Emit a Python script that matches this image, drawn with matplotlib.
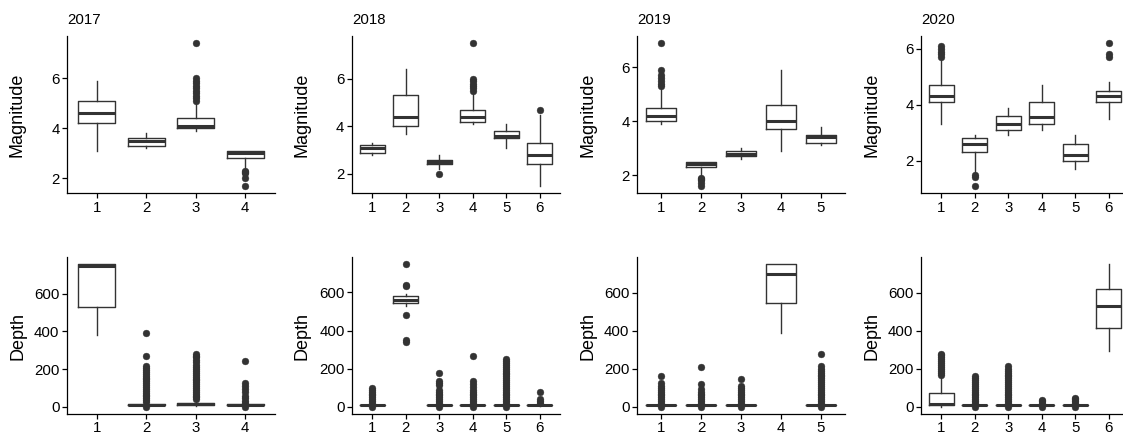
import matplotlib.pyplot as plt

plt.rcParams['font.family'] = ['Liberation Sans', 'DejaVu Sans']

years = ['2017', '2018', '2019', '2020']

# magnitude box stats, one list per year, one value per category
mag_lo = [[3.1, 3.2, 3.9, 2.4], [2.8, 3.7, 2.2, 4.1, 3.1, 1.5],
          [3.9, 2.0, 2.6, 2.9, 3.1], [3.3, 1.6, 2.9, 3.1, 1.7, 3.5]]
mag_q1 = [[4.2, 3.3, 4.0, 2.8], [2.9, 4.0, 2.4, 4.2, 3.5, 2.4],
          [4.0, 2.3, 2.7, 3.7, 3.2], [4.1, 2.3, 3.1, 3.3, 2.0, 4.1]]
mag_med = [[4.6, 3.5, 4.1, 3.0], [3.1, 4.4, 2.5, 4.4, 3.6, 2.8],
           [4.2, 2.4, 2.8, 4.0, 3.4], [4.3, 2.6, 3.3, 3.55, 2.2, 4.3]]
mag_q3 = [[5.1, 3.6, 4.4, 3.1], [3.2, 5.3, 2.6, 4.7, 3.8, 3.3],
          [4.5, 2.5, 2.9, 4.6, 3.5], [4.7, 2.8, 3.6, 4.1, 2.6, 4.5]]
mag_hi = [[5.9, 3.8, 5.0, 3.1], [3.3, 6.4, 2.8, 5.4, 4.1, 4.5],
          [5.2, 2.5, 3.0, 5.9, 3.8], [5.6, 2.9, 3.9, 4.7, 2.9, 4.8]]
mag_out = [
    [[], [], [5.1, 5.2, 5.3, 5.4, 5.5, 5.6, 5.7, 5.8, 5.9, 6.0, 7.4], [2.3, 2.25, 2.2, 2.0, 1.7]],
    [[], [], [2.0], [5.5, 5.6, 5.7, 5.8, 5.9, 6.0, 7.5], [], [4.7]],
    [[5.3, 5.4, 5.5, 5.6, 5.7, 5.9, 6.9], [1.9, 1.85, 1.8, 1.7, 1.6], [], [], []],
    [[5.7, 5.8, 5.9, 6.0, 6.1], [1.5, 1.4, 1.1], [], [], [], [5.7, 5.8, 6.2]],
]
mag_yticks = [2, 4, 6]

# depth box stats
depth_lo = [[380, 5, 5, 5], [5, 527, 5, 5, 5, 5], [5, 5, 5, 390, 5], [0, 5, 5, 5, 5, 295]]
depth_q1 = [[530, 8, 10, 8], [8, 542, 8, 8, 8, 8], [8, 8, 8, 548, 8], [9, 8, 8, 8, 8, 415]]
depth_med = [[748, 10, 15, 10], [10, 560, 10, 10, 10, 10], [10, 10, 10, 698, 10], [17, 10, 10, 10, 10, 528]]
depth_q3 = [[756, 14, 20, 14], [12, 580, 12, 12, 12, 12], [12, 12, 12, 752, 12], [71, 12, 12, 12, 12, 620]]
depth_hi = [[756, 23, 35, 22], [18, 591, 18, 18, 18, 18], [18, 18, 18, 752, 18], [160, 18, 18, 18, 18, 750]]
depth_out = [
    [[],
     [0, 25, 35, 45, 55, 65, 75, 85, 95, 105, 115, 125, 135, 145, 155, 165, 175, 185, 195, 205, 215, 272, 392],
     [40, 50, 60, 70, 80, 90, 100, 110, 120, 130, 140, 150, 160, 170, 180, 190, 200, 210, 222, 235, 250,
      262, 272, 282],
     [0, 20, 30, 45, 55, 80, 95, 110, 125, 242]],
    [[0, 20, 30, 40, 50, 60, 70, 80, 90, 100],
     [748, 640, 634, 483, 352, 340],
     [0, 20, 30, 40, 50, 60, 70, 80, 90, 112, 125, 135, 175],
     [0, 20, 30, 40, 50, 60, 70, 80, 90, 105, 118, 135, 265],
     [0, 20, 30, 40, 50, 60, 70, 80, 90, 100, 110, 120, 130, 140, 150, 160, 170, 180, 190, 200, 210, 220,
      230, 240, 250],
     [20, 30, 40, 80]],
    [[0, 20, 30, 40, 50, 60, 70, 80, 90, 100, 110, 125, 165],
     [0, 20, 30, 40, 50, 60, 70, 80, 95, 120, 208],
     [0, 20, 30, 40, 50, 60, 70, 80, 90, 100, 110, 145],
     [],
     [0, 20, 30, 40, 50, 60, 70, 80, 90, 100, 110, 120, 130, 140, 150, 160, 170, 180, 190, 200, 215, 278]],
    [[168, 178, 188, 198, 208, 218, 228, 240, 250, 260, 270, 280],
     [0, 20, 30, 40, 50, 60, 70, 80, 90, 100, 110, 120, 130, 140, 150, 160],
     [0, 20, 30, 40, 50, 60, 70, 80, 90, 100, 110, 120, 130, 140, 150, 160, 170, 180, 190, 200, 215],
     [0, 20, 30, 35],
     [0, 20, 30, 40, 45],
     []],
]
depth_yticks = [0, 200, 400, 600]

W, H = 1123, 437
col_left = [67, 352, 637, 921]
panel_w = 208
panel_h = 157
row_bottom = [193, 414]

dark = '#333333'


def drawPanel(ax, lo, q1, med, q3, hi, out, yticks, ylabel):
    stats = []
    for i in range(len(med)):
        stats.append(dict(whislo=lo[i], q1=q1[i], med=med[i], q3=q3[i], whishi=hi[i], fliers=out[i]))
    n = len(med)
    ax.bxp(stats, positions=list(range(1, n + 1)), widths=0.75, showcaps=False,
           boxprops=dict(color=dark, linewidth=1.0),
           whiskerprops=dict(color=dark, linewidth=1.0),
           medianprops=dict(color=dark, linewidth=2.2, solid_capstyle='butt'),
           flierprops=dict(marker='o', markerfacecolor=dark, markeredgecolor=dark,
                           markersize=4.9, markeredgewidth=0.3))
    ax.set_xlim(0.4, n + 0.6)
    ax.margins(y=0.05)
    ax.set_xticks(list(range(1, n + 1)))
    ax.set_xticklabels([str(k) for k in range(1, n + 1)])
    ax.set_yticks(yticks)
    for s in ['top', 'right']:
        ax.spines[s].set_visible(False)
    for s in ['left', 'bottom']:
        ax.spines[s].set_linewidth(0.9)
    ax.tick_params(length=3.4, width=0.9, pad=2, labelsize=10.8, colors='black')
    ax.set_ylabel(ylabel, fontsize=13)
    ax.yaxis.set_label_coords(-41 / panel_w, 0.5)


fig = plt.figure(figsize=(W / 100, H / 100), dpi=100)

for j in range(len(years)):
    # top row: magnitude
    ax = fig.add_axes([col_left[j] / W, 1 - row_bottom[0] / H, panel_w / W, panel_h / H])
    drawPanel(ax, mag_lo[j], mag_q1[j], mag_med[j], mag_q3[j], mag_hi[j], mag_out[j],
              mag_yticks, 'Magnitude')
    ax.set_title(years[j], loc='left', fontsize=10.8, pad=8.5)

    # bottom row: depth
    ax = fig.add_axes([col_left[j] / W, 1 - row_bottom[1] / H, panel_w / W, panel_h / H])
    drawPanel(ax, depth_lo[j], depth_q1[j], depth_med[j], depth_q3[j], depth_hi[j], depth_out[j],
              depth_yticks, 'Depth')

fig.savefig('out.png', dpi=100)
